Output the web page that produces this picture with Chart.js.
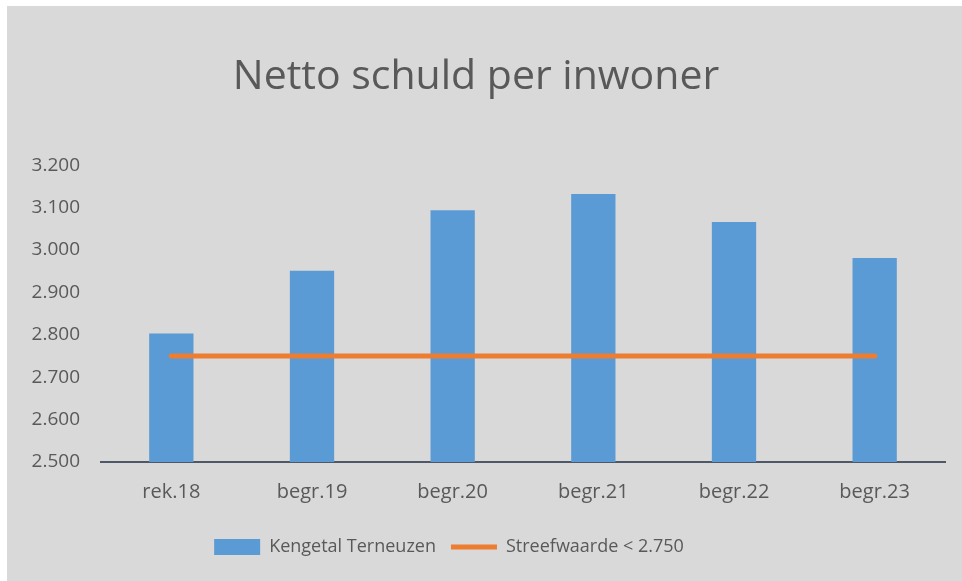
<!DOCTYPE html>
<html>
<head>
<meta charset="utf-8">
<script src="https://cdn.jsdelivr.net/npm/chart.js@4/dist/chart.umd.min.js"></script>
<style>
  html, body { margin: 0; padding: 0; background: #fff; }
  #wrap {
    position: absolute; left: 7px; top: 6px;
    width: 955px; height: 575px;
    background: #d9d9d9;
  }
</style>
</head>
<body>
<div id="wrap"><canvas id="c"></canvas></div>
<script>
// chart values
const categories = ["rek.18", "begr.19", "begr.20", "begr.21", "begr.22", "begr.23"];
const kengetal   = [2803, 2951, 3094, 3132, 3066, 2981];
const streef     = [2750, 2750, 2750, 2750, 2750, 2750];
const yTicks     = [2500, 2600, 2700, 2800, 2900, 3000, 3100, 3200];

const grey = "#595959";
const font = "'Open Sans', sans-serif";

// nudge the legend a bit left, like the original
const legendShift = {
  id: "legendShift",
  afterLayout(chart) {
    chart.legend.left -= 27;
    chart.legend.right -= 27;
  }
};

new Chart(document.getElementById("c").getContext("2d"), {
  data: {
    labels: categories,
    datasets: [
      {
        type: "line",
        label: "Streefwaarde < 2.750",
        data: streef,
        borderColor: "#ed7d31",
        backgroundColor: "#ed7d31",
        borderWidth: 5,
        borderCapStyle: "round",
        pointRadius: 0,
        pointStyle: "line",
        order: 0
      },
      {
        type: "bar",
        label: "Kengetal Terneuzen",
        data: kengetal,
        backgroundColor: "#5b9bd5",
        pointStyle: "rect",
        barPercentage: 0.63,
        categoryPercentage: 0.5,
        order: 1
      }
    ]
  },
  options: {
    responsive: true,
    maintainAspectRatio: false,
    animation: false,
    layout: { padding: { left: 0, right: 17, top: 0, bottom: 15 } },
    scales: {
      x: {
        offset: true,
        grid: { display: false, drawTicks: false },
        border: { display: true, color: "#4f5866", width: 2 },
        ticks: { color: grey, font: { family: font, size: 20 }, padding: 18.5 }
      },
      y: {
        min: 2500,
        max: 3200,
        afterFit: s => { s.width = 94; },
        afterBuildTicks: s => { s.ticks = yTicks.map(v => ({ value: v })); },
        grid: { display: false, drawTicks: false },
        border: { display: false },
        ticks: {
          color: grey,
          font: { family: font, size: 19 },
          padding: 21,
          callback: v => (v / 1000).toFixed(3)
        }
      }
    },
    plugins: {
      title: {
        display: true,
        text: "Netto schuld per inwoner",
        color: grey,
        font: { family: font, size: 41, weight: "normal" },
        padding: { top: 47, bottom: 63 }
      },
      legend: {
        position: "bottom",
        reverse: true,
        labels: {
          color: grey,
          font: { family: font, size: 18 },
          usePointStyle: true,
          pointStyleWidth: 46,
          boxHeight: 16,
          padding: 15
        }
      },
      tooltip: { enabled: false }
    }
  },
  plugins: [legendShift]
});
</script>
</body>
</html>
